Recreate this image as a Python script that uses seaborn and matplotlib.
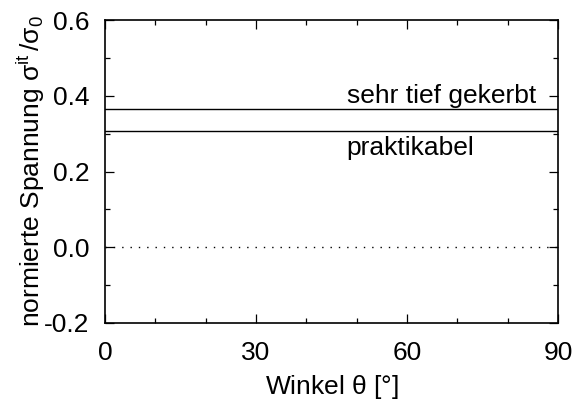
import matplotlib
matplotlib.use("Agg")
import matplotlib.pyplot as plt
from matplotlib.ticker import MultipleLocator
import numpy as np
import pandas as pd
import seaborn as sns

# Normalised stress over angle for two notch geometries
winkel = [0, 90]
sehr_tief_gekerbt = [0.364, 0.364]
praktikabel = [0.307, 0.307]
null_linie = [0.0, 0.0]

kurven = ["sehr tief gekerbt", "praktikabel"]
x_ticks = [0, 30, 60, 90]
y_ticks = [-0.2, 0.0, 0.2, 0.4, 0.6]

sns.set_theme(style="ticks")
plt.rcParams["font.family"] = ["Liberation Sans", "DejaVu Sans"]
plt.rcParams["mathtext.fontset"] = "custom"
plt.rcParams["mathtext.rm"] = "Liberation Sans"
plt.rcParams["mathtext.it"] = "Liberation Sans:italic"
plt.rcParams["mathtext.sf"] = "Liberation Sans"
plt.rcParams["text.color"] = "black"
plt.rcParams["axes.labelcolor"] = "black"

FS = 19

df = pd.DataFrame({
    "winkel": winkel * 2,
    "wert": sehr_tief_gekerbt + praktikabel,
    "kurve": [kurven[0]] * 2 + [kurven[1]] * 2,
})

fig = plt.figure(figsize=(5.8, 4.05), dpi=100)
ax = fig.add_axes([105 / 580, 1 - 323 / 405, 453 / 580, 303 / 405])

sns.lineplot(data=df, x="winkel", y="wert", units="kurve", estimator=None,
             color="black", linewidth=1.0, ax=ax, legend=False)
sns.lineplot(x=winkel, y=null_linie, color="black", linewidth=1.0,
             linestyle=(0, (1, 5)), ax=ax, legend=False)

ax.text(48, 0.381, kurven[0], fontsize=FS, va="baseline", ha="left", color="black")
ax.text(48, 0.244, kurven[1], fontsize=FS, va="baseline", ha="left", color="black")

ax.set_xlim(0, 90)
ax.set_ylim(-0.2, 0.6)
ax.set_xticks(x_ticks)
ax.set_yticks(y_ticks)
ax.set_yticklabels([f"{v:.1f}" for v in y_ticks])
ax.xaxis.set_minor_locator(MultipleLocator(10))
ax.yaxis.set_minor_locator(MultipleLocator(0.1))
ax.tick_params(which="both", direction="in", top=True, right=True,
               labelsize=FS, colors="black")
ax.tick_params(axis="x", which="major", pad=13)
ax.tick_params(axis="y", which="major", pad=11)
ax.tick_params(which="major", length=6.5, width=0.9)
ax.tick_params(which="minor", length=3.8, width=0.9)
for s in ax.spines.values():
    s.set_linewidth(1.2)
    s.set_color("black")

ax.set_xlabel(r"Winkel $\mathrm{\theta}$ [°]", fontsize=FS, labelpad=6)
ax.set_ylabel(r"normierte Spannung $\mathrm{\sigma}^{\mathrm{it}}\,/\mathrm{\sigma}_{0}$",
              fontsize=FS, labelpad=-2)

fig.savefig("out.png", dpi=100)
